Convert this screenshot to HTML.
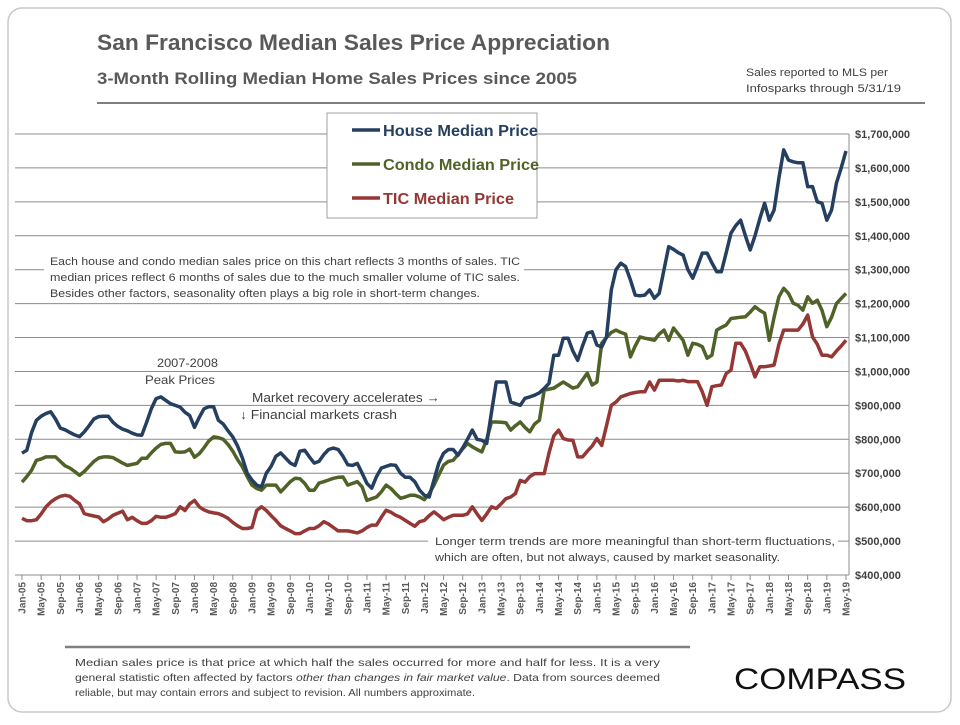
<!DOCTYPE html>
<html><head><meta charset="utf-8"><style>
html,body{margin:0;padding:0;background:#fff;}
svg text{font-family:"Liberation Sans",sans-serif;}
</style></head><body>
<svg id="chart" width="960" height="720" viewBox="0 0 960 720" xmlns="http://www.w3.org/2000/svg">
<rect x="8" y="8" width="943" height="704" rx="14" fill="#fff" stroke="#c8c8c8" stroke-width="1.5"/>
<text x="97" y="50" font-size="22" font-weight="bold" fill="#595959" textLength="513">San Francisco Median Sales Price Appreciation</text>
<text x="97" y="84" font-size="17" font-weight="bold" fill="#595959" textLength="480">3-Month Rolling Median Home Sales Prices since 2005</text>
<text x="746" y="76" font-size="11" fill="#404040" textLength="142">Sales reported to MLS per</text>
<text x="746" y="92" font-size="11" fill="#404040" textLength="155">Infosparks through 5/31/19</text>
<line x1="97" y1="103" x2="925" y2="103" stroke="#7f7f7f" stroke-width="2"/>
<g id="grid"></g>
<g id="xaxis"></g>
<g id="series"></g>
<g id="overlays">
<rect x="327" y="113" width="210" height="105" fill="#fff" stroke="#a0a0a0" stroke-width="1"/>
<line x1="352" y1="130" x2="380" y2="130" stroke="#243f60" stroke-width="3.5"/>
<text x="383" y="136" font-size="16" font-weight="bold" fill="#243f60" textLength="155">House Median Price</text>
<line x1="352" y1="164" x2="380" y2="164" stroke="#4f6228" stroke-width="3.5"/>
<text x="383" y="170" font-size="16" font-weight="bold" fill="#4f6228" textLength="156">Condo Median Price</text>
<line x1="352" y1="198" x2="380" y2="198" stroke="#953735" stroke-width="3.5"/>
<text x="383" y="204" font-size="16" font-weight="bold" fill="#953735" textLength="131">TIC Median Price</text>
<rect x="44" y="252" width="480" height="50" fill="#fff"/>
<text x="50" y="265" font-size="11" fill="#404040" textLength="470">Each house and condo median sales price on this chart reflects 3 months of sales. TIC</text>
<text x="50" y="281" font-size="11" fill="#404040" textLength="470">median prices reflect 6 months of sales due to the much smaller volume of TIC sales.</text>
<text x="50" y="297" font-size="11" fill="#404040" textLength="430">Besides other factors, seasonality often plays a big role in short-term changes.</text>
<text x="157" y="367" font-size="12" fill="#404040" textLength="61">2007-2008</text>
<text x="145" y="384" font-size="12" fill="#404040" textLength="70">Peak Prices</text>
<text x="252" y="402" font-size="12.5" fill="#404040" textLength="188">Market recovery accelerates →</text>
<text x="240" y="419" font-size="12.5" fill="#404040" textLength="157">↓ Financial markets crash</text>
<rect x="428" y="533" width="410" height="34" fill="#fff"/>
<text x="435" y="545" font-size="11" fill="#404040" textLength="400">Longer term trends are more meaningful than short-term fluctuations,</text>
<text x="435" y="561" font-size="11" fill="#404040" textLength="345">which are often, but not always, caused by market seasonality.</text>
</g>
<line x1="65" y1="647" x2="690" y2="647" stroke="#808080" stroke-width="2.5"/>
<text x="75" y="666" font-size="10.5" fill="#404040" textLength="585">Median sales price is that price at which half the sales occurred for more and half for less. It is a very</text>
<text x="75" y="681" font-size="10.5" fill="#404040" textLength="585">general statistic often affected by factors <tspan font-style="italic">other than changes in fair market value</tspan>. Data from sources deemed</text>
<text x="75" y="696" font-size="10.5" fill="#404040" textLength="400">reliable, but may contain errors and subject to revision. All numbers approximate.</text>
<text x="734" y="689" font-size="30" fill="#111" textLength="172">COMPASS</text>
</svg>
<script>
const yTicks=[400000,500000,600000,700000,800000,900000,1000000,1100000,1200000,1300000,1400000,1500000,1600000,1700000];
const monthNames=["Jan","May","Sep"];
const house=[759,768,820,856,868,876,881,860,833,828,820,813,808,822,840,860,867,868,868,850,838,830,825,818,813,812,850,890,920,925,915,905,900,895,880,870,835,865,890,896,896,856,845,825,807,780,745,700,680,665,660,700,720,750,760,745,730,723,765,768,748,730,735,755,770,774,770,750,725,723,729,700,670,656,690,715,720,725,723,700,688,688,675,650,635,630,680,730,759,770,770,753,775,800,827,800,797,788,880,969,969,969,910,905,900,921,925,930,937,950,965,1048,1048,1098,1098,1060,1033,1075,1113,1117,1078,1072,1102,1240,1300,1319,1309,1270,1225,1223,1225,1240,1216,1230,1300,1368,1360,1350,1343,1300,1275,1310,1349,1349,1320,1294,1294,1350,1408,1430,1446,1400,1358,1400,1450,1496,1446,1476,1570,1653,1623,1618,1615,1615,1545,1545,1500,1496,1446,1476,1555,1600,1650];
const condo=[674,690,709,738,742,748,748,748,735,722,715,705,694,705,720,735,745,748,748,746,738,730,723,726,729,744,744,760,774,785,788,788,763,762,763,771,747,758,775,795,807,805,800,785,765,740,719,690,665,655,650,665,665,665,645,660,675,685,684,670,650,650,671,675,680,685,688,689,665,670,675,660,620,625,630,645,665,655,640,626,630,635,635,630,622,640,665,695,724,735,738,755,772,788,778,770,763,800,851,851,850,849,827,840,851,835,822,845,856,945,948,951,960,969,960,951,955,975,995,960,969,1083,1100,1115,1122,1115,1110,1043,1075,1102,1098,1095,1092,1110,1122,1092,1128,1110,1092,1048,1083,1080,1073,1039,1048,1122,1130,1137,1156,1158,1160,1161,1175,1191,1180,1172,1092,1160,1220,1245,1230,1201,1195,1181,1220,1201,1210,1180,1132,1160,1200,1215,1230];
const tic=[567,560,560,563,580,601,615,625,632,635,632,620,610,581,577,574,571,557,565,576,582,588,563,570,560,552,552,560,573,570,570,575,581,601,590,610,620,601,592,586,583,581,575,567,555,545,537,537,540,590,601,590,575,561,545,537,530,522,522,530,537,537,545,557,550,540,530,530,530,527,524,530,540,547,547,570,591,585,576,570,561,552,544,557,561,575,586,575,563,570,576,576,576,580,601,580,561,580,601,596,610,625,630,640,679,674,690,699,699,699,760,810,827,802,798,797,748,748,765,780,802,782,840,900,910,925,930,935,938,940,940,969,945,974,974,974,974,972,974,970,970,970,940,900,955,958,960,994,1004,1083,1083,1060,1024,984,1014,1014,1016,1019,1080,1122,1122,1122,1122,1140,1166,1102,1080,1048,1048,1043,1060,1075,1092];
const NS="http://www.w3.org/2000/svg";
const X0=22,X1=846,Y0=575,Y1=134,VMIN=400000,VMAX=1700000;
const nMonths=house.length;
function xScale(i){return X0+(X1-X0)*i/(nMonths-1);}
function yScale(v){return Y0-(v-VMIN)/(VMAX-VMIN)*(Y0-Y1);}
function mk(tag,attrs,parent){const e=document.createElementNS(NS,tag);for(const k in attrs)e.setAttribute(k,attrs[k]);parent.appendChild(e);return e;}
document.querySelectorAll('text[textLength]').forEach(t=>t.setAttribute('lengthAdjust','spacingAndGlyphs'));
const grid=document.getElementById('grid');
yTicks.forEach(v=>{
  const y=yScale(v);
  const l=mk('line',{x1:15,y1:y,x2:849,y2:y,stroke:'#8c8c8c','stroke-width':1},grid);
  
  
  const t=mk('text',{x:855,y:y+4,'font-size':11,'font-weight':'bold',fill:'#404040'},grid);
  t.textContent='$'+v.toLocaleString('en-US');
  
  
});
const ax=mk('line',{x1:849,y1:Y1,x2:849,y2:Y0,stroke:'#8c8c8c','stroke-width':1},grid);


const xg=document.getElementById('xaxis');
for(let i=0;i<nMonths;i+=4){
  const x=xScale(i);
  const tk=mk('line',{x1:x,y1:Y0,x2:x,y2:Y0+5,stroke:'#8c8c8c','stroke-width':1},xg);
  
  
  const yr=5+Math.floor(i/12);
  const lbl=monthNames[(i%12)/4]+'-'+(yr<10?'0'+yr:yr);
  const t=mk('text',{x:0,y:0,'font-size':10,'font-weight':'bold',fill:'#595959','text-anchor':'end',transform:`translate(${x+3.5},582) rotate(-90)`},xg);
  t.textContent=lbl;
  
  
}
const sg=document.getElementById('series');
[[tic,'#953735','tic-line'],[condo,'#4f6228','condo-line'],[house,'#243f60','house-line']].forEach(([arr,c,n])=>{
  const d=arr.map((v,i)=>(i?'L':'M')+xScale(i).toFixed(1)+','+yScale(v*1000).toFixed(1)).join('');
  const p=mk('path',{d:d,fill:'none',stroke:c,'stroke-width':3.5,'stroke-linejoin':'round'},sg);
  
  
});
</script>
</body></html>
